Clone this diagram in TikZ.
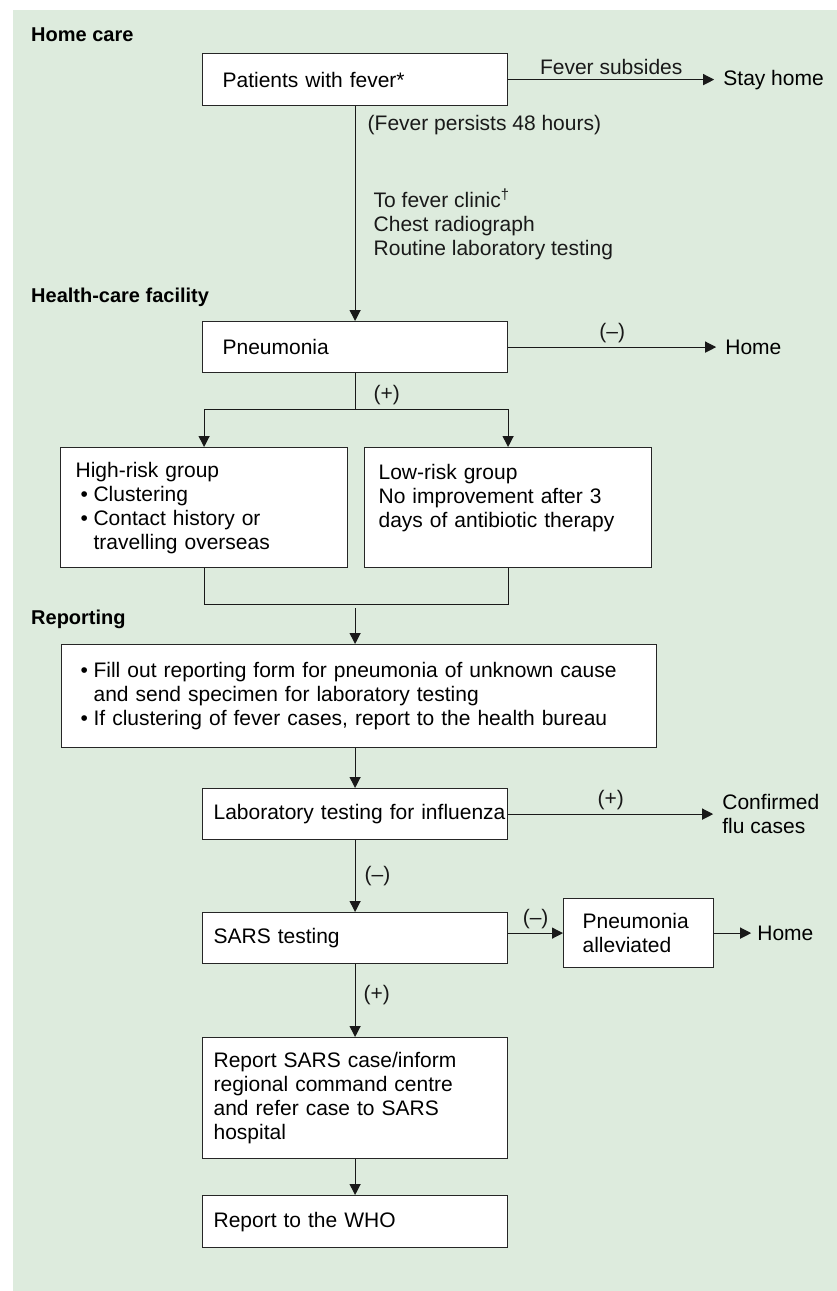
\documentclass[tikz,border=0pt]{standalone}
\usepackage{fontspec}
\setmainfont{Liberation Sans}
\usetikzlibrary{arrows.meta, positioning}

\definecolor{panelgreen}{RGB}{221,235,221}
\newcommand{\bulitem}{\makebox[13bp][l]{•}}
\newcommand{\bulgap}{\hspace*{13bp}}

\begin{document}
\begin{tikzpicture}[x=1bp, y=-1bp,
  font=\fontsize{21bp}{24bp}\selectfont,
  flowbox/.style={draw=black!85, fill=white, line width=1.2bp, anchor=north west, align=left, inner ysep=0pt},
  heading/.style={anchor=west, inner sep=0pt, font=\fontsize{20bp}{24bp}\selectfont\bfseries},
  outcome/.style={anchor=west, inner xsep=9bp, inner ysep=0pt, align=left},
  branch/.style={above, inner sep=4bp},
  note/.style={inner sep=0pt, align=left},
  link/.style={line width=1.2bp, black!90},
  arr/.style={link, -{Triangle[length=11bp, width=11bp]}}
]

% frame
\useasboundingbox (0,0) rectangle (837,1291);
\fill[panelgreen] (13,10) rectangle (837,1291);

% home care
\node[heading] (homecare) at (31,35) {Home care};
\node[flowbox, minimum width=305bp, minimum height=52bp, inner xsep=20bp, text width=265bp] (fever) at (202,53) {Patients with fever*};
\node[outcome, right=206bp of fever] (stay) {Stay home};
\draw[arr] (fever) -- (stay) node[branch, midway] {Fever subsides};

% health-care facility
\node[heading] (facility) at (31,297) {Health-care facility};
\node[flowbox, minimum width=305bp, minimum height=51bp, inner xsep=20bp, text width=265bp] (pneu) at (202,321) {Pneumonia};
\node[outcome, right=208bp of pneu] (home1) {Home};
\draw[arr] (pneu) -- (home1) node[branch, midway] {(–)};

\draw[arr] (fever) -- (pneu)
  node[note, pos=0.09, right=12bp] {(Fever persists 48 hours)}
  node[note, pos=0.55, right=18bp] {To fever clinic\textsuperscript{†}\\Chest radiograph\\Routine laboratory testing};

% risk groups
\coordinate (split) at ([yshift=-36bp]pneu.south);
\node[flowbox, minimum width=287bp, minimum height=120bp, inner xsep=15bp, text width=257bp] (high) at (60,447)
  {High-risk group\\\hspace*{5bp}\bulitem Clustering\\\hspace*{5bp}\bulitem Contact history or\\\hspace*{5bp}\bulgap travelling overseas};
\node[flowbox, minimum width=287bp, minimum height=120bp, inner xsep=14bp, text width=259bp] (low) at (364,447)
  {Low-risk group\\No improvement after 3\\days of antibiotic therapy\\\mbox{}};

\draw[link] (pneu.south) -- (split) node[note, pos=0.6, right=18bp] {(+)};
\draw[arr] (split) -| (high.north);
\draw[arr] (split) -| (low.north);

\coordinate (merge) at ([yshift=-36bp]high.south -| split);
\draw[link] (high.south) |- (merge) -| (low.south);
\coordinate (gather) at ([yshift=-4bp]merge);

% reporting
\node[heading] (reporting) at (31,619) {Reporting};
\node[flowbox, minimum width=595bp, minimum height=103bp, inner xsep=19bp, text width=557bp] (form) at (61,644)
  {\bulitem Fill out reporting form for pneumonia of unknown cause\\\bulgap and send specimen for laboratory testing\\\bulitem If clustering of fever cases, report to the health bureau};
\draw[arr] (gather) -- (gather |- form.north);

\node[flowbox, minimum width=305bp, minimum height=51bp, inner xsep=11bp, text width=283bp] (flu) at (202,788) {\mbox{Laboratory testing for influenza}};
\draw[arr] (form.south -| flu.north) -- (flu.north);
\node[outcome, right=205bp of flu] (confirmed) {Confirmed\\flu cases};
\draw[arr] (flu) -- (confirmed) node[branch, midway] {(+)};

\node[flowbox, minimum width=305bp, minimum height=51bp, inner xsep=11bp, text width=283bp] (sars) at (202,912) {SARS testing};
\draw[arr] (flu) -- (sars) node[note, midway, right=9bp] {(–)};

\node[flowbox, minimum width=150bp, minimum height=69bp, inner xsep=19bp, text width=112bp] (relief) at (563,898) {Pneumonia\\alleviated};
\draw[arr] (relief.west -| sars.east) -- (relief.west) node[branch, midway] {(–)};
\node[outcome, inner xsep=6bp, right=37bp of relief] (home2) {Home};
\draw[arr] (relief) -- (home2);

\node[flowbox, minimum width=305bp, minimum height=121bp, inner xsep=11bp, text width=283bp] (report) at (202,1037)
  {Report SARS case/inform\\regional command centre\\and refer case to SARS\\hospital};
\draw[arr] (sars) -- (report) node[note, pos=0.43, right=8bp] {(+)};

\node[flowbox, minimum width=305bp, minimum height=52bp, inner xsep=11bp, text width=283bp] (who) at (202,1195) {Report to the WHO};
\draw[arr] (report) -- (who);

\end{tikzpicture}
\end{document}
